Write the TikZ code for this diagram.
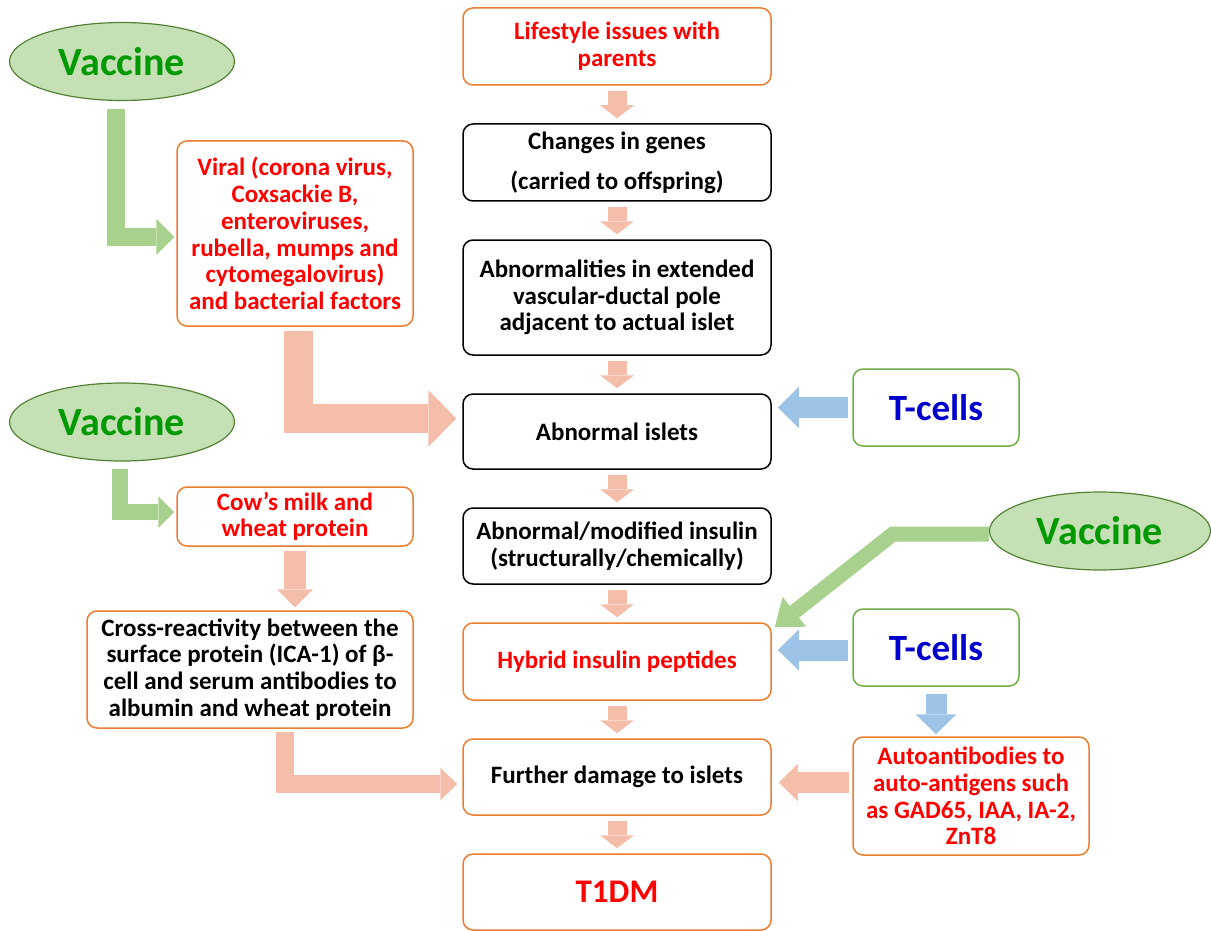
\documentclass[tikz,border=0pt]{standalone}
\usepackage{fontspec}
\setmainfont{Carlito}
\usetikzlibrary{arrows.meta, positioning, shapes.geometric}

\definecolor{boxorange}{RGB}{237,125,49}
\definecolor{salmon}{RGB}{244,190,170}
\definecolor{leaf}{RGB}{169,209,142}
\definecolor{sky}{RGB}{157,195,230}
\definecolor{vacfill}{RGB}{197,224,180}
\definecolor{vacline}{RGB}{84,130,53}
\definecolor{vactext}{RGB}{0,153,0}
\definecolor{tline}{RGB}{112,173,71}
\definecolor{ttext}{RGB}{0,0,204}

\begin{document}
\begin{tikzpicture}[
    x=1pt, y=-1pt,
    node distance=37.5pt,
    box/.style={rectangle, rounded corners=10pt, draw=black, line width=1.5pt, fill=white, minimum width=308pt, align=center, font=\bfseries\fontsize{25}{26.7}\selectfont},
    obox/.style={box, draw=boxorange},
    redbox/.style={obox, text=red},
    tbox/.style={box, draw=tline, text=ttext, minimum width=166pt, minimum height=77pt, font=\bfseries\fontsize{37}{40}\selectfont},
    vac/.style={ellipse, draw=vacline, line width=1.2pt, fill=vacfill, text=vactext, minimum width=225pt, minimum height=78pt, font=\bfseries\fontsize{40}{44}\selectfont},
    fat/.style n args={4}{draw=#1, line width=#2, line join=miter, -{Triangle[width=#3, length=#4, line width=0pt]}},
    flow/.style={fat={salmon}{19pt}{34pt}{13pt}, shorten <=5pt, shorten >=5pt}
]
\useasboundingbox (0,0) rectangle (1211,931);

% main column
\node[redbox, minimum height=77pt] (life) at (617,46.5) {Lifestyle issues with\\parents};
\node[box, minimum height=77pt, below=of life] (genes) {Changes in genes\\[13pt](carried to offspring)};
\node[box, minimum height=115pt, below=of genes] (abn) {Abnormalities in extended\\vascular-ductal pole\\adjacent to actual islet};
\node[box, minimum height=75pt, below=of abn] (islets) {Abnormal islets};
\node[box, minimum height=76pt, below=of islets] (insulin) {Abnormal/modified insulin\\(structurally/chemically)};
\node[redbox, minimum height=77pt, below=of insulin] (hybrid) {Hybrid insulin peptides};
\node[obox, minimum height=76pt, below=of hybrid] (further) {Further damage to islets};
\node[redbox, minimum height=76pt, below=of further, font=\bfseries\fontsize{33}{36}\selectfont] (t1dm) {T1DM};

% left side
\node[vac] (vac1) at (122,61.5) {Vaccine};
\node[redbox, minimum width=236pt, minimum height=185pt] (viral) at (295,233.5) {Viral (corona virus,\\Coxsackie B,\\enteroviruses,\\rubella, mumps and\\cytomegalovirus)\\and bacterial factors};
\node[vac] (vac2) at (122,422) {Vaccine};
\node[redbox, minimum width=236pt, minimum height=59pt] (cow) at (295,516.5) {Cow’s milk and\\wheat protein};
\node[obox, minimum width=326pt, minimum height=117pt] (cross) at (250,669.5) {Cross-reactivity between the\\surface protein (ICA-1) of β-\\cell and serum antibodies to\\albumin and wheat protein};

% right side
\node[tbox] (tcell1) at (936,407.5) {T-cells};
\node[vac, minimum width=221pt] (vac3) at (1100,531) {Vaccine};
\node[tbox] (tcell2) at (936,647.5) {T-cells};
\node[redbox, minimum width=236pt, minimum height=118pt] (auto) at (971,796) {Autoantibodies to\\auto-antigens such\\as GAD65, IAA, IA-2,\\ZnT8};

% main flow
\draw[flow] (life) -- (genes);
\draw[flow] (genes) -- (abn);
\draw[flow] (abn) -- (islets);
\draw[flow] (islets) -- (insulin);
\draw[flow] (insulin) -- (hybrid);
\draw[flow] (hybrid) -- (further);
\draw[flow] (further) -- (t1dm);

% side arrows
\draw[fat={leaf}{18pt}{36pt}{18pt}, shorten <=8pt, shorten >=2pt] ([xshift=-6pt]vac1.south) |- ([yshift=-3.5pt]viral.west);
\draw[fat={salmon}{29pt}{57pt}{28pt}, shorten <=4pt, shorten >=6pt] ([xshift=3pt]viral.south) |- ([yshift=13pt]islets.west);
\draw[fat={leaf}{16pt}{32pt}{16pt}, shorten <=7pt, shorten >=2pt] ([xshift=-2pt]vac2.south) |- ([yshift=4.5pt]cow.west);
\draw[fat={salmon}{22pt}{36pt}{18pt}, shorten <=4pt, shorten >=3pt] (cow.south) -- (cow.south |- cross.north);
\draw[fat={salmon}{18pt}{33pt}{17pt}, shorten <=3pt, shorten >=5pt] ([xshift=35pt]cross.south) |- ([yshift=-7pt]further.west);
\draw[fat={sky}{21pt}{41pt}{21pt}, shorten <=4pt, shorten >=6pt] (tcell1.west) -- (tcell1.west -| islets.east);
\draw[fat={sky}{21pt}{41pt}{21pt}, shorten <=4pt, shorten >=6pt] ([yshift=-2.5pt]tcell2.west) -- ([yshift=-2.5pt]tcell2.west -| hybrid.east);
\draw[fat={sky}{21pt}{41pt}{20pt}, shorten <=7pt, shorten >=2pt] (tcell2.south) -- (tcell2.south |- auto.north);
\draw[fat={salmon}{21pt}{37pt}{19pt}, shorten <=3pt, shorten >=7pt] ([yshift=13.5pt]auto.west) -- ([yshift=13.5pt]auto.west -| further.east);
\draw[fat={leaf}{15pt}{38pt}{25pt}] ([yshift=-3pt]vac3.west) -- (893,534) -- ([shift={(3pt,-5pt)}]hybrid.north east);

\end{tikzpicture}
\end{document}
